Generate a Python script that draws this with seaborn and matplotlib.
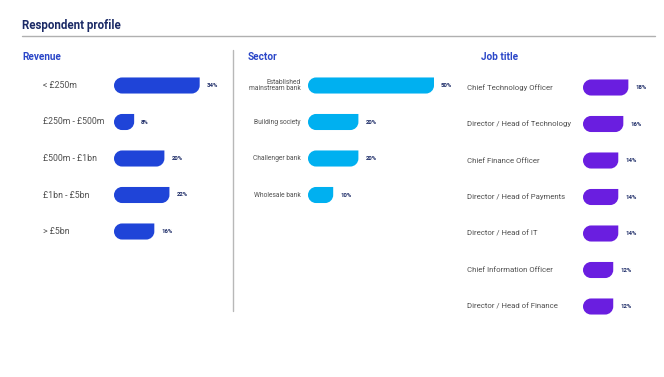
import numpy as np
import pandas as pd
import matplotlib
matplotlib.use("Agg")
import matplotlib.pyplot as plt
import seaborn as sns
from matplotlib.path import Path
from matplotlib.patches import PathPatch
from matplotlib.transforms import IdentityTransform, blended_transform_factory
from matplotlib.lines import Line2D

# ---- data ----
revenue_cats = ["< £250m", "£250m - £500m", "£500m - £1bn", "£1bn - £5bn", "> £5bn"]
revenue_vals = [34, 8, 20, 22, 16]

sector_cats = ["Established\nmainstream bank", "Building society", "Challenger bank", "Wholesale bank"]
sector_vals = [50, 20, 20, 10]

job_cats = ["Chief Technology Officer", "Director / Head of Technology", "Chief Finance Officer",
            "Director / Head of Payments", "Director / Head of IT", "Chief Information Officer",
            "Director / Head of Finance"]
job_vals = [18, 16, 14, 14, 14, 12, 12]

title = "Respondent profile"
panel_titles = ["Revenue", "Sector", "Job title"]

# ---- style ----
sns.set_theme(style="white")
plt.rcParams["font.family"] = ["Roboto", "DejaVu Sans"]

W, H = 664, 377
fig = plt.figure(figsize=(W / 100, H / 100), dpi=100)

NAVY = "#1b2a66"
HEAD = "#2a46c8"
LABEL = "#505050"
PX_PER_PCT = 2.52
ROW = 36.5


def fx(x):
    return x / W


def fy(y):
    return 1 - y / H


def rounded_path(x0, y0, x1, y1):
    # display coords, y up; left end fully rounded, bottom-right rounded, top-right square
    r = (y1 - y0) / 2
    k = 0.5523 * r
    verts = [
        (x0 + r, y1),
        (x1, y1),
        (x1, y0 + r),
        (x1, y0 + r - k), (x1 - r + k, y0), (x1 - r, y0),
        (x0 + r, y0),
        (x0 + r - k, y0), (x0, y0 + r - k), (x0, y0 + r),
        (x0, y0 + r + k), (x0 + r - k, y1), (x0 + r, y1),
        (x0 + r, y1),
    ]
    codes = [Path.MOVETO, Path.LINETO, Path.LINETO,
             Path.CURVE4, Path.CURVE4, Path.CURVE4,
             Path.LINETO,
             Path.CURVE4, Path.CURVE4, Path.CURVE4,
             Path.CURVE4, Path.CURVE4, Path.CURVE4,
             Path.CLOSEPOLY]
    return Path(verts, codes)


def panel(cats, vals, color, left_px, first_center_px, width_px, label_ha, label_x_px, label_size):
    n = len(cats)
    top = first_center_px - ROW / 2
    hgt = n * ROW
    ax = fig.add_axes([fx(left_px), fy(top + hgt), fx(width_px), hgt / H])
    df = pd.DataFrame({"cat": cats, "val": vals})
    sns.barplot(data=df, x="val", y="cat", orient="h", color=color, width=0.44,
                saturation=1, ax=ax)
    ax.set_xlim(0, width_px / PX_PER_PCT)
    ax.set_ylim(n - 0.5, -0.5)
    ax.set_xlabel("")
    ax.set_ylabel("")
    ax.set_xticks([])
    ax.set_yticks([])
    for s in ax.spines.values():
        s.set_visible(False)
    ax.set_facecolor("none")
    tr = blended_transform_factory(fig.transFigure, ax.transData)
    for i, c in enumerate(cats):
        ax.text(fx(label_x_px), i, c, transform=tr, ha=label_ha, va="center",
                fontsize=label_size, color=LABEL, linespacing=1.0, clip_on=False)
    # replace rectangles with rounded shapes
    for p in ax.patches:
        x, y, w, h = p.get_x(), p.get_y(), p.get_width(), p.get_height()
        (dx0, dy0) = ax.transData.transform((x, y + h))
        (dx1, dy1) = ax.transData.transform((x + w, y))
        pp = PathPatch(rounded_path(dx0, dy0, dx1, dy1), facecolor=color, edgecolor="none",
                       transform=IdentityTransform())
        fig.add_artist(pp)
        p.set_visible(False)
    ax.bar_label(ax.containers[0], labels=[f"{v}%" for v in vals], padding=5,
                 fontsize=4.3, fontweight="bold", color=NAVY)
    return ax


ax1 = panel(revenue_cats, revenue_vals, "#1f44d8", 114, 85.5, 110, "left", 43, 6.3)
ax2 = panel(sector_cats, sector_vals, "#00b0f0", 308, 85.5, 150, "right", 301, 4.8)
ax3 = panel(job_cats, job_vals, "#6a1ee0", 583, 87.5, 75, "left", 467, 5.6)

fig.text(fx(22), fy(25), title, fontsize=8.3, fontweight="bold", color=NAVY, ha="left", va="center")
fig.add_artist(Line2D([fx(22), fx(655)], [fy(36), fy(36)], color="#b0b0b0", lw=1.0))
fig.add_artist(Line2D([fx(233), fx(233)], [fy(50), fy(311)], color="#b8b8b8", lw=1.0))

for name, x in zip(panel_titles, [22, 248, 481]):
    fig.text(fx(x), fy(57), name, fontsize=7.2, fontweight="bold", color=HEAD, ha="left", va="center")

fig.savefig("out.png", dpi=100, facecolor="white")
